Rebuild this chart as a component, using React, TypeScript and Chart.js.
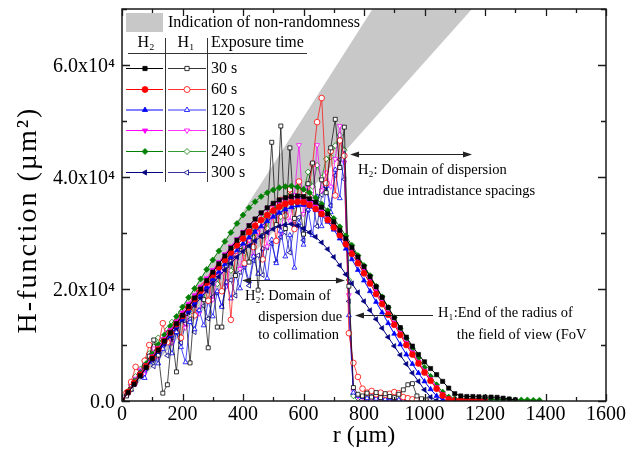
import React, { useEffect, useRef } from 'react';
import { Chart, registerables } from 'chart.js';

Chart.register(...registerables);

const FONT = '"Liberation Serif", "Times New Roman", serif';

const seriesLabels = ['30 s', '60 s', '120 s', '180 s', '240 s', '300 s'];
const seriesColors = ['#000000', '#ff0000', '#0000ff', '#ff00ff', '#008000', '#000080'];
const seriesPointStyles = ['rect', 'circle', 'triangle', 'triangle', 'rectRot', 'triangle'];
const seriesRotations = [0, 0, 0, 180, 0, -90];

// H2 radial grid (µm)
const rH2 = [0, 20, 40, 60, 80, 100, 120, 140, 160, 180, 200, 220, 240, 260, 280, 300, 320, 340, 360, 380,
  400, 420, 440, 460, 480, 500, 520, 540, 560, 580, 600, 620, 640, 660, 680, 700, 720, 740, 760, 780,
  800, 820, 840, 860, 880, 900, 920, 940, 960, 980, 1000, 1020, 1040, 1060, 1080, 1100, 1120, 1140, 1160, 1180,
  1200, 1220, 1240, 1260, 1280, 1300, 1320, 1340, 1360, 1380];

const h2_30s = [0, 1500, 3000, 4500, 6000, 7600, 9100, 10700, 12200, 13800, 15300, 16900, 18400, 20000, 21500, 23000, 24500, 25900, 27300, 28700,
  30000, 31300, 32500, 33600, 34500, 35300, 35900, 36300, 36500, 36600, 36500, 36100, 35500, 34600, 33400, 32000, 30500, 29000, 27400, 25700,
  24000, 22200, 20400, 18500, 16700, 14900, 13100, 11400, 9800, 8300, 7000, 5800, 4700, 3500, 2300, 1300, 900, 800, 800, 750,
  700, 700, 650, 500, 350, 200];
const h2_60s = [0, 1600, 3200, 4700, 6200, 7700, 9200, 10700, 12200, 13700, 15200, 16700, 18200, 19700, 21100, 22500, 23900, 25200, 26500, 27800,
  29000, 30200, 31300, 32300, 33200, 34000, 34700, 35200, 35500, 35600, 35500, 35000, 34300, 33400, 32300, 31000, 29600, 28000, 26300, 24600,
  22800, 21000, 19100, 17300, 15400, 13600, 11800, 10000, 8300, 6700, 5100, 3600, 2200, 1000, 300, 100, 100, 50, 50, 50,
  0];
const h2_120s = [0, 1500, 3000, 4500, 6000, 7400, 8900, 10400, 11800, 13300, 14700, 16200, 17600, 19000, 20400, 21800, 23100, 24400, 25700, 26900,
  28100, 29200, 30200, 31200, 32100, 32900, 33600, 34200, 34600, 34900, 35000, 34700, 34100, 33200, 32000, 30600, 29000, 27200, 25300, 23400,
  21500, 19600, 17700, 15800, 13900, 12000, 10100, 8300, 6600, 5000, 3500, 2100, 900, 200, 50, 0, 0, 0, 0, 0,
  0];
const h2_180s = [0, 1600, 3200, 4800, 6400, 8000, 9500, 11100, 12700, 14200, 15800, 17300, 18900, 20400, 21900, 23400, 24800, 26200, 27600, 28900,
  30200, 31400, 32500, 33500, 34400, 35100, 35700, 36100, 36300, 36300, 36000, 35500, 34800, 33900, 32800, 31500, 30000, 28400, 26800, 25100,
  23300, 21500, 19600, 17700, 15800, 14000, 12200, 10400, 8700, 7000, 5400, 3900, 2500, 1200, 400, 150, 100, 100, 100, 50,
  50];
const h2_240s = [0, 1700, 3400, 5000, 6700, 8400, 10100, 11800, 13400, 15100, 16800, 18500, 20100, 21800, 23500, 25200, 26800, 28500, 30100, 31700,
  33200, 34500, 35600, 36500, 37200, 37700, 38100, 38300, 38400, 38200, 37800, 37200, 36300, 35200, 34000, 32600, 31100, 29500, 27800, 26000,
  24200, 22400, 20500, 18600, 16700, 14900, 13000, 11200, 9400, 7700, 6000, 4400, 2900, 1600, 700, 400, 350, 350, 300, 300,
  300, 300, 250, 250, 250, 200, 200, 200, 150, 150];
const h2_300s = [0, 1500, 3000, 4400, 5900, 7300, 8800, 10200, 11600, 13000, 14400, 15800, 17100, 18400, 19700, 21000, 22200, 23400, 24600, 25700,
  26700, 27700, 28600, 29400, 30100, 30700, 31200, 31500, 31600, 31300, 30800, 30100, 29300, 28300, 27100, 25700, 24200, 22600, 21000, 19400,
  17800, 16200, 14600, 13000, 11400, 9800, 8200, 6600, 5000, 3500, 2000, 700, 100, 0, 0, 0];

// H1 radial grid (µm)
const rH1 = [0, 15, 30, 45, 60, 75, 90, 105, 120, 135, 150, 165, 180, 195, 210, 225, 240, 255, 270, 285,
  300, 315, 330, 345, 360, 375, 390, 405, 420, 435, 450, 465, 480, 495, 510, 525, 540, 555, 570, 585,
  600, 615, 630, 645, 660, 675, 690, 705, 720, 735, 750, 765, 780, 795, 810, 825, 840, 855, 870, 885,
  900, 915, 930, 945, 960, 975, 990, 1005];

const h1_30s = [0, 900, 2100, 3700, 4600, 6300, 8000, 10900, 8200, 1400,
  2900, 11800, 5200, 14900, 15600, 6800, 17500, 19300, 18100, 9500,
  21800, 13200, 13200, 24100, 25700, 22400, 27600, 28400, 24800, 30900,
  19800, 29500, 33000, 46200, 31500, 49100, 30800, 45200, 32600, 36500,
  29800, 38800, 42500, 34600, 39500, 37200, 45200, 50300, 41700, 48900,
  20500, 2400, 1200, 900, 1400, 700, 1500, 600, 1300, 800,
  600, 1200, 2000, 2900, 3100, 900, 400, 200];
const h1_60s = [0, 1500, 3400, 6100, 4800, 7200, 10000, 8100, 9800, 13900,
  10500, 12600, 14100, 11300, 16400, 17200, 15300, 19800, 20600, 17900,
  22500, 23300, 19600, 25600, 14500, 26800, 28400, 24600, 30200, 27500,
  31600, 25300, 32800, 34200, 28600, 35900, 33100, 37800, 30700, 39200,
  35600, 36800, 42300, 49800, 54100, 38900, 44600, 36700, 46500, 43800,
  12100, 6800, 4300, 2200, 1500, 1800, 1200, 1500, 1100, 1300,
  1600, 1400, 700, 500, 300, 200, 100, 0];
const h1_120s = [0, 1100, 2000, 3500, 5200, 4100, 6900, 8200, 6700, 9300,
  10600, 8500, 12300, 9600, 6900, 14100, 12800, 16200, 13500, 17800,
  15100, 19600, 16800, 21200, 18300, 22600, 20100, 24300, 21400, 25800,
  22700, 27200, 21900, 28800, 24600, 30400, 25800, 29600, 23800, 31800,
  27900, 34200, 29600, 36500, 31200, 38400, 33700, 41300, 36200, 44100,
  15300, 1500, 900, 700, 500, 800, 400, 600, 300, 500,
  300, 200, 100, 100, 0, 0, 0, 0];
const h1_180s = [0, 1300, 2700, 4000, 5600, 4800, 8100, 9400, 7900, 11000,
  12300, 10400, 13900, 15000, 13100, 16800, 17700, 15600, 19500, 20600,
  18100, 22400, 23300, 20500, 25000, 26100, 23600, 27800, 28700, 25900,
  30100, 31300, 27600, 32800, 34000, 29900, 35300, 32200, 36800, 45700,
  33400, 38100, 35200, 45700, 37600, 40800, 38300, 43200, 49100, 42600,
  18900, 1800, 800, 600, 400, 500, 300, 400, 200, 300,
  200, 100, 0, 0, 0, 0, 0, 0];
const h1_240s = [0, 1400, 2900, 4400, 5700, 7200, 8500, 9700, 11300, 10200,
  12800, 14100, 13200, 15900, 16700, 15400, 18600, 19900, 18200, 21700,
  22800, 20900, 24600, 25500, 23300, 27200, 28300, 26400, 30000, 29200,
  31500, 32600, 30800, 33900, 35000, 32900, 36200, 37300, 34800, 38400,
  37100, 40900, 38300, 42100, 39800, 43200, 43600, 45600, 47500, 44800,
  21600, 900, 500, 300, 600, 200, 400, 300, 200, 500,
  300, 200, 400, 300, 200, 100, 100, 0];
const h1_300s = [0, 1000, 2400, 3300, 4900, 5700, 7400, 6200, 8700, 9800,
  8100, 11300, 12200, 10400, 13800, 14600, 12300, 16200, 17000, 14700,
  18600, 19300, 16900, 20700, 21600, 18800, 23000, 23900, 20600, 25100,
  26000, 22500, 27400, 28100, 24800, 29300, 30100, 26500, 31500, 32800,
  28700, 34100, 35300, 31200, 36800, 38200, 34900, 40300, 43100, 39600,
  17800, 1200, 600, 400, 300, 500, 200, 300, 100, 200,
  100, 0, 0, 0, 0, 0, 0, 0];

const h2Series = [h2_30s, h2_60s, h2_120s, h2_180s, h2_240s, h2_300s];
const h1Series = [h1_30s, h1_60s, h1_120s, h1_180s, h1_240s, h1_300s];

// Non-randomness band edges (lines from the origin)
const bandR = [0, 1600];
const bandLower = [0, 96800];
const bandUpper = [0, 135200];

const xTickLabelStep = 200;
const yTickLabelStep = 20000;
const xTitle = 'r (µm)';
const yTitle = 'H-function (µm²)';

// annotations in data coordinates
const arrows = [
  { x1: 754, x2: 1157, y: 44100, heads: 'both' },
  { x1: 397, x2: 737, y: 21600, heads: 'both' },
  { x1: 770, x2: 1028, y: 15360, heads: 'start' },
];
const notes = [
  { x: 780, y: 41250, text: 'H₂: Domain of dispersion' },
  { x: 863, y: 37500, text: 'due intradistance spacings' },
  { x: 407, y: 18750, text: 'H₂: Domain of' },
  { x: 450, y: 15000, text: 'dispersion due' },
  { x: 450, y: 11800, text: 'to collimation' },
  { x: 1045, y: 15700, text: 'H₁:End of the radius of' },
  { x: 1107, y: 11800, text: 'the field of view (FoV' },
];

function toPts(xs: number[], ys: number[]) {
  return ys.map((v, i) => ({ x: xs[i], y: v }));
}

function drawMarker(ctx: CanvasRenderingContext2D, style: string, rot: number, x: number, y: number, r: number, fill: string, stroke: string, lw: number) {
  ctx.save();
  ctx.translate(x, y);
  ctx.rotate((rot * Math.PI) / 180);
  ctx.beginPath();
  if (style === 'circle') {
    ctx.arc(0, 0, r, 0, Math.PI * 2);
  } else if (style === 'rect') {
    const s = r * Math.SQRT1_2;
    ctx.rect(-s, -s, 2 * s, 2 * s);
  } else if (style === 'rectRot') {
    ctx.moveTo(0, -r); ctx.lineTo(r, 0); ctx.lineTo(0, r); ctx.lineTo(-r, 0); ctx.closePath();
  } else {
    for (let k = 0; k < 3; k++) {
      const a = (k * 2 * Math.PI) / 3;
      const px = Math.sin(a) * r, py = -Math.cos(a) * r;
      if (k === 0) ctx.moveTo(px, py); else ctx.lineTo(px, py);
    }
    ctx.closePath();
  }
  ctx.fillStyle = fill;
  ctx.fill();
  ctx.strokeStyle = stroke;
  ctx.lineWidth = lw;
  ctx.stroke();
  ctx.restore();
}

function arrowHead(ctx: CanvasRenderingContext2D, x: number, y: number, dir: number) {
  ctx.beginPath();
  ctx.moveTo(x, y);
  ctx.lineTo(x - dir * 9, y - 3);
  ctx.lineTo(x - dir * 9, y + 3);
  ctx.closePath();
  ctx.fill();
}

const framePlugin = {
  id: 'frameTicks',
  afterDatasetsDraw(chart: any) {
    const { ctx, chartArea } = chart;
    const { left, right, top, bottom } = chartArea;
    const xs = chart.scales.x, ys = chart.scales.y;
    ctx.save();
    ctx.strokeStyle = '#1a1a1a';
    ctx.lineWidth = 1.5;
    ctx.strokeRect(left, top, right - left, bottom - top);
    ctx.lineWidth = 1.3;
    ctx.beginPath();
    xs.ticks.forEach((t: any) => {
      const px = Math.round(xs.getPixelForValue(t.value)) + 0.5;
      const len = t.value % xTickLabelStep === 0 ? 7 : 4;
      ctx.moveTo(px, bottom); ctx.lineTo(px, bottom - len);
      ctx.moveTo(px, top); ctx.lineTo(px, top + len);
    });
    ys.ticks.forEach((t: any) => {
      const py = Math.round(ys.getPixelForValue(t.value)) + 0.5;
      const len = t.value % yTickLabelStep === 0 ? 8 : 5;
      ctx.moveTo(left, py); ctx.lineTo(left + len, py);
      ctx.moveTo(right, py); ctx.lineTo(right - len, py);
    });
    ctx.stroke();

    // annotations
    ctx.strokeStyle = '#222';
    ctx.fillStyle = '#222';
    ctx.lineWidth = 1;
    arrows.forEach((a) => {
      const x1 = xs.getPixelForValue(a.x1), x2 = xs.getPixelForValue(a.x2);
      const y = Math.round(ys.getPixelForValue(a.y)) + 0.5;
      ctx.beginPath();
      ctx.moveTo(x1 + 4, y); ctx.lineTo(a.heads === 'both' ? x2 - 4 : x2, y);
      ctx.stroke();
      arrowHead(ctx, x1, y, -1);
      if (a.heads === 'both') arrowHead(ctx, x2, y, 1);
    });
    ctx.fillStyle = '#000';
    ctx.font = `14.5px ${FONT}`;
    ctx.textBaseline = 'middle';
    ctx.textAlign = 'left';
    notes.forEach((n) => {
      ctx.fillText(n.text, xs.getPixelForValue(n.x), ys.getPixelForValue(n.y));
    });
    ctx.restore();
  },
  afterDraw(chart: any) {
    const { ctx, chartArea } = chart;
    ctx.save();
    // y-axis title
    ctx.save();
    ctx.translate(29, (chartArea.top + chartArea.bottom) / 2 + 15);
    ctx.rotate(-Math.PI / 2);
    ctx.fillStyle = '#000';
    ctx.font = `28px ${FONT}`;
    (ctx as any).letterSpacing = '2px';
    ctx.textAlign = 'center';
    ctx.textBaseline = 'middle';
    ctx.fillText(yTitle, 0, 0);
    ctx.restore();

    // legend
    ctx.fillStyle = '#c8c8c8';
    ctx.fillRect(126, 13, 37, 19);
    ctx.fillStyle = '#000';
    ctx.font = `16px ${FONT}`;
    ctx.textBaseline = 'middle';
    ctx.textAlign = 'left';
    ctx.fillText('Indication of non-randomness', 168, 23);
    ctx.textAlign = 'center';
    ctx.fillText('H₂', 146, 43);
    ctx.fillText('H₁', 186, 43);
    ctx.textAlign = 'left';
    ctx.fillText('Exposure time', 211, 43);
    ctx.strokeStyle = '#333';
    ctx.lineWidth = 1;
    ctx.beginPath();
    ctx.moveTo(128, 53.5); ctx.lineTo(307, 53.5);
    ctx.moveTo(165.5, 38); ctx.lineTo(165.5, 182);
    ctx.moveTo(207.5, 38); ctx.lineTo(207.5, 182);
    ctx.stroke();
    const rowY = [68, 89, 109.5, 130, 151, 172];
    seriesLabels.forEach((lab, i) => {
      const y = rowY[i];
      const c = seriesColors[i];
      ctx.strokeStyle = c;
      ctx.lineWidth = 1;
      ctx.beginPath(); ctx.moveTo(126, y + 0.5); ctx.lineTo(163, y + 0.5); ctx.stroke();
      drawMarker(ctx, seriesPointStyles[i], seriesRotations[i], 145, y + 0.5, 3, c, c, 0.8);
      ctx.lineWidth = 0.8;
      ctx.beginPath(); ctx.moveTo(168, y + 0.5); ctx.lineTo(206, y + 0.5); ctx.stroke();
      drawMarker(ctx, seriesPointStyles[i], seriesRotations[i], 187, y + 0.5, 3, '#fff', c, 0.8);
      ctx.fillStyle = '#000';
      ctx.fillText(lab, 211, y + 1);
    });
    ctx.restore();
  },
};

export default function App() {
  const ref = useRef<HTMLCanvasElement>(null);
  useEffect(() => {
    const h2Sets = h2Series.map((vals, i) => ({
      label: `H2 ${seriesLabels[i]}`,
      data: toPts(rH2, vals),
      borderColor: seriesColors[i],
      backgroundColor: seriesColors[i],
      borderWidth: 1,
      pointStyle: seriesPointStyles[i],
      pointRotation: seriesRotations[i],
      pointRadius: 3,
      pointBorderWidth: 0.6,
      pointBackgroundColor: seriesColors[i],
      pointBorderColor: seriesColors[i],
      fill: false,
    }));
    const h1Sets = h1Series.map((vals, i) => ({
      label: `H1 ${seriesLabels[i]}`,
      data: toPts(rH1, vals),
      borderColor: seriesColors[i],
      backgroundColor: '#ffffff',
      borderWidth: 0.7,
      pointStyle: seriesPointStyles[i],
      pointRotation: seriesRotations[i],
      pointRadius: 2.8,
      pointBorderWidth: 0.8,
      pointBackgroundColor: '#ffffff',
      pointBorderColor: seriesColors[i],
      fill: false,
    }));
    const bandSets = [
      { label: 'band lower', data: toPts(bandR, bandLower), borderWidth: 0, pointRadius: 0, borderColor: 'rgba(0,0,0,0)', fill: false },
      { label: 'band upper', data: toPts(bandR, bandUpper), borderWidth: 0, pointRadius: 0, borderColor: 'rgba(0,0,0,0)', backgroundColor: '#c8c8c8', fill: '-1' },
    ];
    const chart = new Chart(ref.current as HTMLCanvasElement, {
      type: 'line',
      data: { datasets: [...h2Sets, ...h1Sets, ...bandSets] as any },
      options: {
        animation: false,
        responsive: false,
        events: [],
        layout: { padding: { top: 9, right: 22, left: 0, bottom: 0 } },
        plugins: { legend: { display: false }, tooltip: { enabled: false } },
        scales: {
          x: {
            type: 'linear',
            min: 0,
            max: 1600,
            afterFit: (s: any) => { s.height = 61; s.paddingLeft = 0; s.paddingRight = 0; },
            grid: { display: false, drawTicks: false },
            border: { display: false },
            ticks: {
              stepSize: 100,
              autoSkip: false,
              maxRotation: 0,
              padding: 2,
              color: '#000',
              font: { family: FONT, size: 20 },
              callback: (v: any) => (Number(v) % xTickLabelStep === 0 ? String(v) : ''),
            },
            title: { display: true, text: xTitle, color: '#000', font: { family: FONT, size: 24 }, padding: { top: 0, bottom: 12 } },
          },
          y: {
            type: 'linear',
            min: 0,
            max: 70000,
            afterFit: (s: any) => { s.width = 122; s.paddingTop = 0; s.paddingBottom = 0; },
            grid: { display: false, drawTicks: false },
            border: { display: false },
            ticks: {
              stepSize: 10000,
              autoSkip: false,
              padding: 7,
              labelOffset: 2,
              color: '#000',
              font: { family: FONT, size: 20 },
              callback: (v: any) => {
                const n = Number(v);
                if (n % yTickLabelStep !== 0) return '';
                if (n === 0) return '0.0';
                return `${(n / 10000).toFixed(1)}x10⁴`;
              },
            },
            title: { display: false },
          },
        },
      } as any,
      plugins: [framePlugin],
    });
    return () => chart.destroy();
  }, []);
  return (
    <div style={{ position: 'fixed', left: 0, top: 0, width: 628, height: 462, background: '#fff' }}>
      <canvas ref={ref} width={628} height={462} style={{ display: 'block' }} />
    </div>
  );
}
